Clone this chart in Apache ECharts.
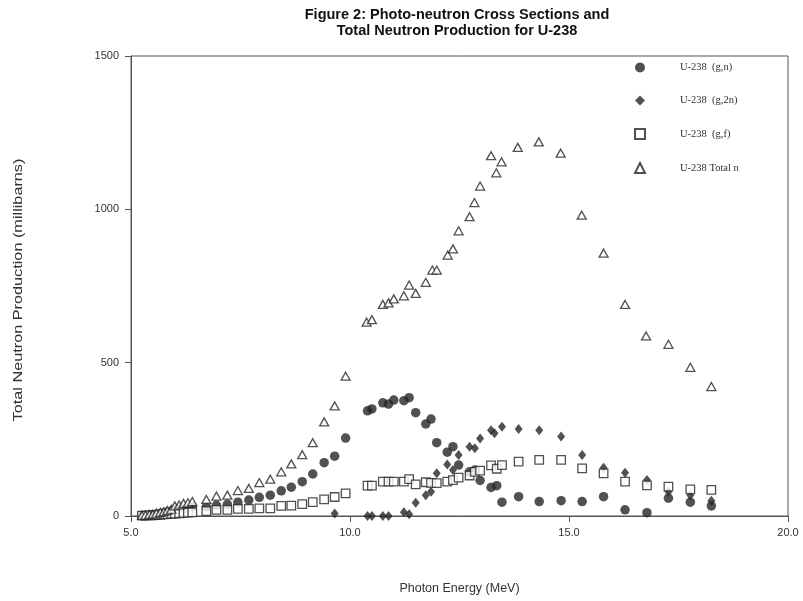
<!DOCTYPE html>
<html>
<head>
<meta charset="utf-8">
<script src="https://cdn.jsdelivr.net/npm/echarts@6/dist/echarts.min.js"></script>
<style>
  html, body { margin: 0; padding: 0; background: #fff; }
  #chart { width: 803px; height: 601px; }
</style>
</head>
<body>
<div id="chart"></div>
<script>
// Photon energies (MeV) and cross sections (millibarns) for U-238

// (g,n)
var gnEnergy = [5.25, 5.33, 5.42, 5.50, 5.58, 5.67, 5.75, 5.83, 5.92, 6.00, 6.10, 6.20, 6.30, 6.40,
  6.72, 6.95, 7.20, 7.44, 7.69, 7.93, 8.18, 8.43, 8.66, 8.91, 9.15, 9.41, 9.65, 9.90,
  10.40, 10.50, 10.75, 10.88, 11.00, 11.23, 11.35, 11.50, 11.73, 11.85, 11.98, 12.22, 12.35, 12.48,
  12.73, 12.85, 12.97, 13.22, 13.35, 13.47, 13.85, 14.32, 14.82, 15.30, 15.79, 16.28, 16.78,
  17.27, 17.77, 18.25];
var gnValue = [1, 2, 3, 4, 6, 8, 10, 13, 16, 20, 23, 23, 26, 30,
  30, 35, 38, 45, 52, 61, 68, 82, 94, 112, 137, 174, 195, 254,
  343, 349, 369, 365, 378, 376, 386, 337, 300, 316, 239, 208, 226, 166,
  144, 150, 116, 93, 99, 45, 63, 47, 50, 47, 63, 20, 11,
  58, 45, 33];

// (g,2n)
var g2nEnergy = [9.65, 10.40, 10.50, 10.75, 10.88, 11.23, 11.35, 11.50, 11.73, 11.85, 11.98,
  12.22, 12.35, 12.48, 12.73, 12.85, 12.97, 13.22, 13.30, 13.47, 13.85, 14.32, 14.82, 15.30,
  15.79, 16.28, 16.78, 17.27, 17.77, 18.25];
var g2nValue = [8, 0, 0, 0, 0, 12, 6, 43, 68, 79, 139,
  168, 150, 199, 226, 221, 253, 280, 270, 291, 284, 280, 259, 199,
  157, 141, 117, 79, 68, 50];

// (g,f)
var gfEnergy = [5.25, 5.33, 5.42, 5.50, 5.58, 5.67, 5.75, 5.83, 5.92, 6.00, 6.10, 6.20, 6.30, 6.40,
  6.72, 6.95, 7.20, 7.44, 7.69, 7.93, 8.18, 8.43, 8.66, 8.91, 9.15, 9.41, 9.65, 9.90,
  10.40, 10.50, 10.75, 10.88, 11.00, 11.23, 11.35, 11.50, 11.73, 11.85, 11.98, 12.22, 12.35, 12.48,
  12.73, 12.85, 12.97, 13.22, 13.35, 13.47, 13.85, 14.32, 14.82, 15.30, 15.79, 16.28, 16.78,
  17.27, 17.77, 18.25];
var gfValue = [1, 1, 2, 2, 3, 4, 5, 6, 7, 8, 9, 10, 11, 12,
  16, 20, 20, 23, 23, 25, 25, 33, 34, 39, 45, 54, 62, 74,
  99, 99, 112, 112, 112, 112, 120, 103, 110, 108, 107, 112, 117, 125,
  132, 144, 148, 165, 154, 166, 177, 183, 183, 155, 139, 112, 100,
  96, 87, 85];

// Total neutron production
var totEnergy = [5.25, 5.33, 5.42, 5.50, 5.58, 5.67, 5.75, 5.83, 5.92, 6.00, 6.10, 6.20, 6.30, 6.40,
  6.72, 6.95, 7.20, 7.44, 7.69, 7.93, 8.18, 8.43, 8.66, 8.91, 9.15, 9.41, 9.65, 9.90,
  10.38, 10.50, 10.75, 10.88, 11.00, 11.23, 11.35, 11.50, 11.73, 11.88, 11.98, 12.23, 12.35, 12.48,
  12.73, 12.84, 12.97, 13.22, 13.34, 13.46, 13.83, 14.31, 14.81, 15.29, 15.79, 16.28, 16.76,
  17.27, 17.77, 18.25];
var totValue = [2, 3, 5, 6, 9, 12, 14, 18, 22, 33, 36, 41, 43, 47,
  54, 65, 68, 83, 90, 109, 120, 144, 170, 200, 239, 307, 359, 456,
  632, 640, 690, 695, 708, 718, 753, 726, 762, 802, 802, 851, 871, 930,
  976, 1022, 1076, 1175, 1119, 1155, 1202, 1220, 1183, 981, 857, 690, 587,
  560, 485, 422];

var seriesNames = ['U-238  (g,n)', 'U-238  (g,2n)', 'U-238  (g,f)', 'U-238 Total n'];
var xTicks = [5, 10, 15, 20];
var yTicks = [0, 500, 1000, 1500];
var yTitle = 'Total Neutron Production (millibarns)';

function pairs(xs, ys) {
  return xs.map(function (x, i) { return [x, ys[i]]; });
}

var ink = '#262626';
var axisInk = '#555';
var sans = 'Liberation Sans, Arial, sans-serif';

var chart = echarts.init(document.getElementById('chart'), null, { renderer: 'canvas' });

chart.setOption({
  backgroundColor: '#fff',
  animation: false,
  title: {
    text: 'Figure 2: Photo-neutron Cross Sections and\nTotal Neutron Production for U-238',
    left: 452,
    top: 2,
    textAlign: 'center',
    textStyle: {
      fontFamily: sans,
      fontWeight: 'bold',
      fontSize: 14.5,
      lineHeight: 16,
      color: '#111'
    }
  },
  // vertical axis title, drawn with a widened letter run
  graphic: [{
    type: 'text',
    x: 19,
    y: 290,
    rotation: Math.PI / 2,
    scaleX: 1.3,
    silent: true,
    style: {
      text: yTitle,
      fontFamily: sans,
      fontSize: 12.5,
      fill: '#333',
      align: 'center',
      verticalAlign: 'middle'
    }
  }],
  grid: {
    left: 131,
    right: 15,
    top: 56,
    bottom: 85,
    show: true,
    borderColor: axisInk,
    borderWidth: 1,
    backgroundColor: 'transparent'
  },
  legend: {
    orient: 'vertical',
    left: 629,
    top: 57,
    itemWidth: 10,
    itemHeight: 10,
    itemGap: 22,
    selectedMode: false,
    textStyle: {
      fontFamily: 'Liberation Serif, Times New Roman, serif',
      fontSize: 10.5,
      lineHeight: 10,
      padding: [0, 0, 0, 30],
      color: '#333'
    },
    data: seriesNames
  },
  xAxis: {
    type: 'value',
    min: xTicks[0],
    max: xTicks[xTicks.length - 1],
    interval: 5,
    name: 'Photon Energy (MeV)',
    nameLocation: 'middle',
    nameGap: 66,
    nameTextStyle: { fontFamily: sans, fontSize: 12.5, color: '#333' },
    axisLine: { show: true, lineStyle: { color: axisInk, width: 1 } },
    axisTick: { show: true, inside: false, length: 6, lineStyle: { color: axisInk } },
    axisLabel: {
      margin: 11,
      fontFamily: sans,
      fontSize: 11,
      color: '#333',
      formatter: function (v) { return v.toFixed(1); }
    },
    splitLine: { show: false }
  },
  yAxis: {
    type: 'value',
    min: yTicks[0],
    max: yTicks[yTicks.length - 1],
    interval: 500,
    axisLine: { show: true, lineStyle: { color: axisInk, width: 1 } },
    axisTick: { show: true, inside: false, length: 6, lineStyle: { color: axisInk } },
    axisLabel: {
      margin: 12,
      fontFamily: sans,
      fontSize: 11,
      color: '#333',
      formatter: function (v) { return String(v); }
    },
    splitLine: { show: false }
  },
  series: [
    {
      name: seriesNames[0],
      type: 'scatter',
      symbol: 'circle',
      symbolSize: 9.5,
      itemStyle: { color: ink },
      data: pairs(gnEnergy, gnValue)
    },
    {
      name: seriesNames[1],
      type: 'scatter',
      symbol: 'diamond',
      symbolSize: [8, 10],
      itemStyle: { color: ink },
      data: pairs(g2nEnergy, g2nValue)
    },
    {
      name: seriesNames[2],
      type: 'scatter',
      symbol: 'rect',
      symbolSize: 8.5,
      itemStyle: { color: '#fff', borderColor: ink, borderWidth: 1.3 },
      data: pairs(gfEnergy, gfValue)
    },
    {
      name: seriesNames[3],
      type: 'scatter',
      symbol: 'triangle',
      symbolSize: [9, 8],
      itemStyle: { color: '#fff', borderColor: ink, borderWidth: 1.3 },
      data: pairs(totEnergy, totValue)
    }
  ]
});
</script>
</body>
</html>
